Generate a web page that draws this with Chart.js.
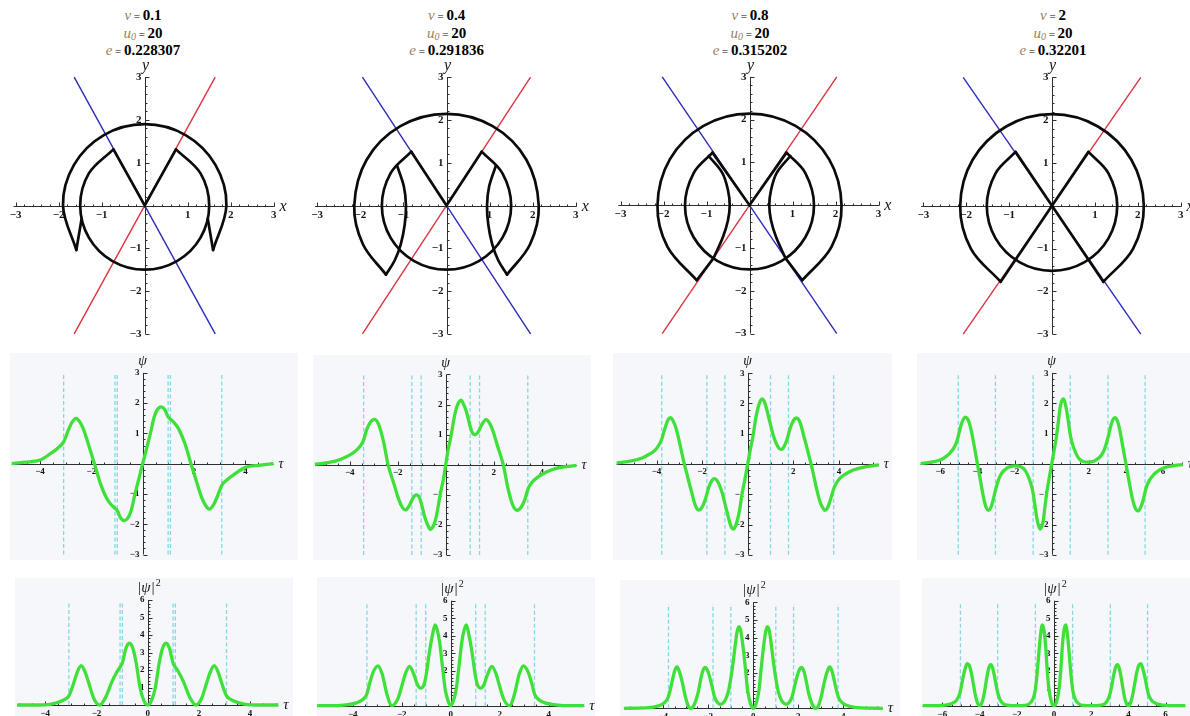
<!DOCTYPE html>
<html>
<head>
<meta charset="utf-8">
<script src="https://cdn.jsdelivr.net/npm/chart.js@4.4.1/dist/chart.umd.min.js"></script>
<style>
  html, body { margin: 0; padding: 0; background: #fff; width: 1190px; height: 716px; overflow: hidden; position: relative; }
  canvas { position: absolute; }
  .ttl { position: absolute; top: 7px; width: 200px; margin-left: -100px; text-align: center;
         font-family: "Liberation Serif", "Times New Roman", serif; line-height: 16.5px; color: #000; }
  .ttl i { color: #9c7e5c; font-size: 15px; }
  .ttl sub { font-size: 10px; line-height: 0; vertical-align: -2px; }
  .ttl .eq { font-size: 11px; }
  .ttl b { font-size: 15px; }
</style>
</head>
<body>
<script>
// ---------- parameters shown above each column ----------
const nuValues = ['0.1', '0.4', '0.8', '2'];
const u0Values = ['20', '20', '20', '20'];
const eValues  = ['0.228307', '0.291836', '0.315202', '0.32201'];

// ---------- tick labels ----------
const planeTicks   = [-3, -2, -1, 1, 2, 3];
const psiTicks     = [-3, -2, -1, 1, 2, 3];
const tauTicksNarrow = [-4, -2, 2, 4];
const tauTicksWide   = [-6, -4, -2, 2, 4, 6];
const probTicks    = [1, 2, 3, 4, 5, 6];
const probTauTicksNarrow = [-4, -2, 0, 2, 4];
const probTauTicksWide   = [-6, -4, -2, 0, 2, 4, 6];

// ---------- phase-plane curves (x, y) ----------
// v = 0.1
const outer1 = [[1.59,-1.04],[1.9,0],[1.645,0.95],[0.95,1.645],[0,1.9],[-0.95,1.645],[-1.645,0.95],[-1.9,0],[-1.59,-1.04]];
const inner1 = [[0.727,1.312],[1.299,0.75],[1.5,0],[1.299,-0.75],[0.75,-1.299],[0,-1.5],[-0.75,-1.299],[-1.299,-0.75],[-1.5,0],[-1.299,0.75],[-0.727,1.312]];
const spikeL1 = [[-1.59,-1.04],[-1.467,-0.31]];
const spikeR1 = [[1.59,-1.04],[1.467,-0.31]];
const vee1 = [[-0.727,1.312],[0,0],[0.727,1.312]];
const red1 = [[-1.64,-3],[1.64,3]];
const blue1 = [[-1.64,3],[1.64,-3]];
// v = 0.4
const outer2 = [[1.404,-1.615],[1.939,-0.905],[2.14,0],[1.853,1.07],[1.07,1.853],[0,2.14],[-1.07,1.853],[-1.853,1.07],[-2.14,0],[-1.939,-0.905],[-1.404,-1.615]];
const inner2 = [[0.817,1.258],[1.299,0.75],[1.5,0],[1.299,-0.75],[0.75,-1.299],[0,-1.5],[-0.75,-1.299],[-1.299,-0.75],[-1.5,0],[-1.299,0.75],[-0.817,1.258]];
const lensL2 = [[-1.404,-1.615],[-1.2,-1.28],[-1.06,-0.9],[-0.97,-0.45],[-0.94,0],[-0.99,0.45],[-1.15,0.94]];
const lensR2 = [[1.404,-1.615],[1.2,-1.28],[1.06,-0.9],[0.97,-0.45],[0.94,0],[0.99,0.45],[1.15,0.94]];
const vee2 = [[-0.817,1.258],[0,0],[0.817,1.258]];
const red2 = [[-1.95,-3],[1.95,3]];
const blue2 = [[-1.95,3],[1.95,-3]];
// v = 0.8
const outer3 = [[1.227,-1.753],[1.907,-0.972],[2.14,0],[1.853,1.07],[1.07,1.853],[0,2.14],[-1.07,1.853],[-1.853,1.07],[-2.14,0],[-1.907,-0.972],[-1.227,-1.753]];
const inner3 = [[0.86,1.229],[1.299,0.75],[1.5,0],[1.299,-0.75],[0.75,-1.299],[0,-1.5],[-0.75,-1.299],[-1.299,-0.75],[-1.5,0],[-1.299,0.75],[-0.86,1.229]];
const footL3 = [[-1.227,-1.753],[-0.84,-1.243]];
const footR3 = [[1.227,-1.753],[0.84,-1.243]];
const lensL3 = [[-0.84,-1.243],[-0.62,-0.75],[-0.5,-0.35],[-0.46,0],[-0.5,0.35],[-0.63,0.75],[-0.95,1.15]];
const lensR3 = [[0.84,-1.243],[0.62,-0.75],[0.5,-0.35],[0.46,0],[0.5,0.35],[0.63,0.75],[0.95,1.15]];
const vee3 = [[-0.86,1.229],[0,0],[0.86,1.229]];
const red3 = [[-2.03,-3],[2.03,3]];
const blue3 = [[-2.03,3],[2.03,-3]];
// v = 2
const outer4 = [[1.197,-1.774],[1.889,-1.005],[2.14,0],[1.853,1.07],[1.07,1.853],[0,2.14],[-1.07,1.853],[-1.853,1.07],[-2.14,0],[-1.889,-1.005],[-1.197,-1.774]];
const inner4 = [[0.85,1.26],[1.316,0.76],[1.52,0],[1.316,-0.76],[0.76,-1.316],[0,-1.52],[-0.76,-1.316],[-1.316,-0.76],[-1.52,0],[-1.316,0.76],[-0.85,1.26]];
const crossA4 = [[-1.197,-1.774],[0,0],[0.85,1.26]];
const crossB4 = [[1.197,-1.774],[0,0],[-0.85,1.26]];
const red4 = [[-2.07,-3],[2.07,3]];
const blue4 = [[-2.07,3],[2.07,-3]];

// ---------- wave functions ----------
const tau1 = [-5.1,-4.6,-4.0,-3.6,-3.3,-3.08,-2.9,-2.75,-2.6,-2.45,-2.3,-2.1,-1.88,-1.65,-1.4,-1.2,-1.08,-0.99,-0.85,-0.72,-0.58,-0.45,-0.3,-0.15,0,
              0.15,0.3,0.45,0.58,0.72,0.85,0.99,1.08,1.2,1.4,1.65,1.88,2.1,2.3,2.45,2.6,2.75,2.9,3.08,3.3,3.6,4.0,4.6,5.1];
const psi1 = [0,0.05,0.12,0.33,0.52,0.72,1.1,1.37,1.5,1.38,1.12,0.6,0,-0.65,-1.15,-1.38,-1.47,-1.55,-1.8,-1.88,-1.8,-1.55,-1.0,-0.5,0,
              0.5,1.0,1.55,1.8,1.88,1.8,1.55,1.47,1.38,1.15,0.65,0,-0.6,-1.12,-1.38,-1.5,-1.37,-1.1,-0.72,-0.52,-0.33,-0.12,-0.05,0];
const prob1 = [0,0,0.01,0.11,0.27,0.52,1.21,1.88,2.25,1.9,1.25,0.36,0,0.42,1.32,1.9,2.16,2.4,3.24,3.53,3.24,2.4,1.0,0.25,0,
               0.25,1.0,2.4,3.24,3.53,3.24,2.4,2.16,1.9,1.32,0.42,0,0.36,1.25,1.9,2.25,1.88,1.21,0.52,0.27,0.11,0.01,0,0];
const cuts1 = [-3.08,-1.08,-0.99,0.99,1.08,3.08];

const tau2 = [-5.45,-5.0,-4.6,-4.2,-3.85,-3.6,-3.43,-3.3,-3.15,-2.97,-2.8,-2.6,-2.4,-2.15,-2.0,-1.85,-1.68,-1.5,-1.36,-1.23,-1.1,-1.0,-0.88,-0.75,-0.64,-0.55,-0.45,-0.35,-0.22,-0.1,0,
              0.1,0.22,0.35,0.45,0.55,0.64,0.75,0.88,1.0,1.1,1.23,1.36,1.5,1.68,1.85,2.0,2.15,2.4,2.6,2.8,2.97,3.15,3.3,3.43,3.6,3.85,4.2,4.6,5.0,5.45];
const psi2 = [0.02,0.06,0.12,0.24,0.4,0.58,0.8,1.15,1.4,1.51,1.35,0.8,0,-0.65,-1.05,-1.35,-1.5,-1.33,-1.1,-1.0,-1.08,-1.33,-1.72,-2.0,-2.15,-2.08,-1.9,-1.55,-0.95,-0.5,0,
              0.5,0.95,1.55,1.9,2.08,2.15,2.0,1.72,1.33,1.08,1.0,1.1,1.33,1.5,1.35,1.05,0.65,0,-0.8,-1.35,-1.51,-1.4,-1.15,-0.8,-0.58,-0.4,-0.24,-0.12,-0.06,-0.02];
const prob2 = [0,0,0.01,0.06,0.16,0.34,0.64,1.32,1.96,2.28,1.82,0.64,0,0.42,1.1,1.82,2.25,1.77,1.21,1.0,1.17,1.77,2.96,4.0,4.62,4.33,3.61,2.4,0.9,0.25,0,
               0.25,0.9,2.4,3.61,4.33,4.62,4.0,2.96,1.77,1.17,1.0,1.21,1.77,2.25,1.82,1.1,0.42,0,0.64,1.82,2.28,1.96,1.32,0.64,0.34,0.16,0.06,0.01,0,0];
const cuts2 = [-3.42,-1.41,-1.02,1.02,1.41,3.42];

const tau3 = [-5.75,-5.1,-4.63,-4.3,-4.05,-3.9,-3.78,-3.7,-3.6,-3.5,-3.39,-3.27,-3.15,-3.03,-2.9,-2.78,-2.67,-2.56,-2.45,-2.35,-2.25,-2.14,-2.05,-1.95,-1.85,-1.72,-1.6,-1.47,-1.37,-1.25,-1.12,-1.0,-0.9,-0.8,-0.72,-0.63,-0.55,-0.45,-0.35,-0.25,-0.12,0,
              0.12,0.25,0.35,0.45,0.55,0.63,0.72,0.8,0.9,1.0,1.12,1.25,1.37,1.47,1.6,1.72,1.85,1.95,2.05,2.14,2.25,2.35,2.45,2.56,2.67,2.78,2.9,3.03,3.15,3.27,3.39,3.5,3.6,3.7,3.78,3.9,4.05,4.3,4.63,5.1,5.75];
const psi3 = [0.03,0.1,0.2,0.33,0.47,0.62,0.8,1.0,1.25,1.45,1.53,1.42,1.2,0.85,0.4,0,-0.32,-0.65,-0.95,-1.25,-1.45,-1.52,-1.48,-1.35,-1.15,-0.8,-0.58,-0.48,-0.52,-0.68,-0.95,-1.3,-1.6,-1.9,-2.08,-2.15,-2.08,-1.85,-1.5,-1.0,-0.5,0,
              0.5,1.0,1.5,1.85,2.08,2.15,2.08,1.9,1.6,1.3,0.95,0.68,0.52,0.48,0.58,0.8,1.15,1.35,1.48,1.52,1.45,1.25,0.95,0.65,0.32,0,-0.4,-0.85,-1.2,-1.42,-1.53,-1.45,-1.25,-1.0,-0.8,-0.62,-0.47,-0.33,-0.2,-0.1,-0.03];
const prob3 = [0,0.01,0.04,0.11,0.22,0.38,0.64,1.0,1.56,2.1,2.34,2.02,1.44,0.72,0.16,0,0.1,0.42,0.9,1.56,2.1,2.31,2.19,1.82,1.32,0.64,0.34,0.23,0.27,0.46,0.9,1.69,2.56,3.61,4.33,4.62,4.33,3.42,2.25,1.0,0.25,0,
               0.25,1.0,2.25,3.42,4.33,4.62,4.33,3.61,2.56,1.69,0.9,0.46,0.27,0.23,0.34,0.64,1.32,1.82,2.19,2.31,2.1,1.56,0.9,0.42,0.1,0,0.16,0.72,1.44,2.02,2.34,2.1,1.56,1.0,0.64,0.38,0.22,0.11,0.04,0.01,0];
const cuts3 = [-3.77,-1.79,-1.0,1.0,1.79,3.77];

const tau4 = [-7.06,-6.5,-6.01,-5.75,-5.48,-5.25,-5.08,-5.0,-4.9,-4.78,-4.67,-4.56,-4.45,-4.33,-4.22,-4.1,-4.0,-3.91,-3.82,-3.72,-3.62,-3.52,-3.41,-3.3,-3.2,-3.1,-3.0,-2.85,-2.69,-2.5,-2.33,-2.1,-1.89,-1.7,-1.53,-1.4,-1.26,-1.14,-1.02,-0.92,-0.81,-0.72,-0.63,-0.54,-0.45,-0.37,-0.27,-0.13,0,
              0.13,0.27,0.37,0.45,0.54,0.63,0.72,0.81,0.92,1.02,1.14,1.26,1.4,1.53,1.7,1.89,2.1,2.33,2.5,2.69,2.85,3.0,3.1,3.2,3.3,3.41,3.52,3.62,3.72,3.82,3.91,4.0,4.1,4.22,4.33,4.45,4.56,4.67,4.78,4.9,5.0,5.08,5.25,5.48,5.75,6.01,6.5,7.06];
const psi4 = [0.02,0.06,0.13,0.22,0.36,0.55,0.8,1.0,1.25,1.45,1.55,1.52,1.38,1.1,0.75,0.35,0,-0.3,-0.6,-0.95,-1.25,-1.45,-1.53,-1.47,-1.3,-1.05,-0.8,-0.5,-0.3,-0.18,-0.11,-0.07,-0.06,-0.08,-0.14,-0.24,-0.42,-0.62,-0.9,-1.3,-1.75,-2.02,-2.15,-2.08,-1.85,-1.45,-0.97,-0.45,0,
              0.45,0.97,1.45,1.85,2.08,2.15,2.02,1.75,1.3,0.9,0.62,0.42,0.24,0.14,0.08,0.06,0.07,0.11,0.18,0.3,0.5,0.8,1.05,1.3,1.47,1.53,1.45,1.25,0.95,0.6,0.3,0,-0.35,-0.75,-1.1,-1.38,-1.52,-1.55,-1.45,-1.25,-1.0,-0.8,-0.55,-0.36,-0.22,-0.13,-0.06,-0.02];
const prob4 = [0,0,0.02,0.05,0.13,0.3,0.64,1.0,1.56,2.1,2.4,2.31,1.9,1.21,0.56,0.12,0,0.09,0.36,0.9,1.56,2.1,2.34,2.16,1.69,1.1,0.64,0.25,0.09,0.03,0.01,0,0,0.01,0.02,0.06,0.18,0.38,0.81,1.69,3.06,4.08,4.62,4.33,3.42,2.1,0.94,0.2,0,
               0.2,0.94,2.1,3.42,4.33,4.62,4.08,3.06,1.69,0.81,0.38,0.18,0.06,0.02,0.01,0,0,0.01,0.03,0.09,0.25,0.64,1.1,1.69,2.16,2.34,2.1,1.56,0.9,0.36,0.09,0,0.12,0.56,1.21,1.9,2.31,2.4,2.1,1.56,1.0,0.64,0.3,0.13,0.05,0.02,0,0];
const cuts4 = [-5.03,-3.03,-1.0,1.0,3.03,5.03];

// ---------- layout: canvas boxes [left, top, width, height] and frames [originX, originY, px per unit x, px per unit y] ----------
const topBoxes = [[0,55,300,290],[300,55,300,290],[600,55,292,290],[892,55,298,290]];
const topFrames = [[144.7,205.5,43,42.8],[446.5,205.5,43.1,42.8],[749.5,205.2,43,42.8],[1052,205.8,42.9,42.8]];
const midBoxes = [[10,353,288,207],[313,355,278,205],[613,353,279,207],[917,353,273,207]];
const midFrames = [[142.7,463.7,25.67,30.27],[445.7,464.8,24.0,30.1],[747.7,464.0,22.8,30.27],[1051.7,464.0,18.57,30.27]];
const botBoxes = [[15,578,278,138],[317,577,278,139],[620,580,280,136],[922,578,268,138]];
const botFrames = [[147.7,705.0,25.6,17.5],[450.7,705.7,24.5,17.5],[753.3,708.3,22.5,17.67],[1054.0,705.7,18.6,17.5]];
const titleCenters = [143, 446.7, 750, 1053];

// ---------- styles ----------
const SERIF = '"Liberation Serif", "Times New Roman", serif';
const BLACK = '#0b0b0b', RED = '#dc3340', BLUE = '#2c2cbb', GREEN = '#3fe03a', CUT = '#88d6e4';
const PANEL_BG = '#f5f7fa';

const fmt = v => (v < 0 ? '\u2212' + Math.abs(v) : String(v));
const pairs = a => a.map(([x, y]) => ({x, y}));
const xy = (xs, ys) => xs.map((x, i) => ({x, y: ys[i]}));

function stroke(data, color, width, extra) {
  return Object.assign({
    data, showLine: true, borderColor: color, backgroundColor: color, borderWidth: width,
    pointRadius: 0, pointHoverRadius: 0, fill: false, clip: false, tension: 0
  }, extra || {});
}
const arc = a => stroke(pairs(a), BLACK, 2.7, {tension: 0.35, borderCapStyle: 'round'});
const seg = a => stroke(pairs(a), BLACK, 2.7, {borderCapStyle: 'round'});
const cutLines = (cuts, lo, hi) => cuts.map(t =>
  stroke([{x: t, y: lo}, {x: t, y: hi}], CUT, 1.3, {borderDash: [4, 2.5]}));

// Mathematica-style axes crossing at the origin, with minor ticks
const axisPainter = {
  id: 'axisPainter',
  beforeDatasetsDraw(chart, args, o) {
    const {ctx} = chart;
    const sx = chart.scales.x, sy = chart.scales.y;
    const X = v => sx.getPixelForValue(v), Y = v => sy.getPixelForValue(v);
    const x0 = Math.round(X(0)) + 0.5, y0 = Math.round(Y(0)) + 0.5;
    const h = o.h, v = o.v;
    const near = (list, t) => list.some(m => Math.abs(m - t) < 1e-6);
    ctx.save();
    ctx.strokeStyle = '#2e2e2e';
    ctx.lineWidth = 1;
    ctx.beginPath();
    ctx.moveTo(X(h.from), y0); ctx.lineTo(X(h.to), y0);
    ctx.moveTo(x0, Y(v.from)); ctx.lineTo(x0, Y(v.to));
    for (let i = Math.ceil(h.from / h.minor - 1e-9); i * h.minor <= h.to + 1e-9; i++) {
      const t = i * h.minor;
      if (Math.abs(t) < 1e-9) continue;
      const len = near(h.major, t) ? 4 : 2;
      const p = Math.round(X(t)) + 0.5;
      ctx.moveTo(p, y0); ctx.lineTo(p, y0 - len);
    }
    for (let i = Math.ceil(v.from / v.minor - 1e-9); i * v.minor <= v.to + 1e-9; i++) {
      const t = i * v.minor;
      if (Math.abs(t) < 1e-9) continue;
      const len = near(v.major, t) ? 4 : 2;
      const p = Math.round(Y(t)) + 0.5;
      ctx.moveTo(x0, p); ctx.lineTo(x0 + len, p);
    }
    ctx.stroke();

    ctx.fillStyle = '#141414';
    ctx.font = o.tickFont;
    ctx.textAlign = 'center'; ctx.textBaseline = 'top';
    h.major.forEach(t => ctx.fillText(fmt(t), X(t), y0 + o.gapX));
    ctx.textAlign = 'right'; ctx.textBaseline = 'middle';
    v.major.forEach(t => { if (t !== 0) ctx.fillText(fmt(t), x0 - o.gapY, Y(t)); });

    ctx.font = o.nameFont;
    ctx.textAlign = 'left'; ctx.textBaseline = 'middle';
    ctx.fillText(h.name, X(h.to) + o.nameDx, y0);
    ctx.textBaseline = 'alphabetic';
    const w1 = ctx.measureText(v.name).width;
    let w2 = 0;
    if (v.sup) { ctx.font = o.supFont; w2 = ctx.measureText(v.sup).width; ctx.font = o.nameFont; }
    const left = x0 - (w1 + w2) / 2 + (o.nameShift || 0);
    const base = Y(v.to) - o.nameDy;
    ctx.fillText(v.name, left, base);
    if (v.sup) { ctx.font = o.supFont; ctx.fillText(v.sup, left + w1 + 1, base - 6); }
    ctx.restore();
  }
};

function makeChart(box, frame, datasets, axes, bg) {
  const cv = document.createElement('canvas');
  cv.width = box[2]; cv.height = box[3];
  cv.style.left = box[0] + 'px'; cv.style.top = box[1] + 'px';
  cv.style.width = box[2] + 'px'; cv.style.height = box[3] + 'px';
  if (bg) cv.style.background = bg;
  document.body.appendChild(cv);
  const [ox, oy, kx, ky] = frame;
  return new Chart(cv, {
    type: 'scatter',
    data: {datasets},
    options: {
      responsive: false, animation: false, events: [], devicePixelRatio: 1,
      layout: {padding: 0},
      plugins: {legend: {display: false}, tooltip: {enabled: false}, axisPainter: axes},
      scales: {
        x: {type: 'linear', display: false, bounds: 'data',
            min: (box[0] - ox) / kx, max: (box[0] + box[2] - ox) / kx},
        y: {type: 'linear', display: false, bounds: 'data',
            min: (oy - box[1] - box[3]) / ky, max: (oy - box[1]) / ky}
      }
    },
    plugins: [axisPainter]
  });
}

// ---------- column titles ----------
titleCenters.forEach((cx, i) => {
  const d = document.createElement('div');
  d.className = 'ttl';
  d.style.left = cx + 'px';
  d.innerHTML =
    '<div><i>v</i><span class="eq"> = </span><b>' + nuValues[i] + '</b></div>' +
    '<div><i>u<sub>0</sub></i><span class="eq"> = </span><b>' + u0Values[i] + '</b></div>' +
    '<div><i>e</i><span class="eq"> = </span><b>' + eValues[i] + '</b></div>';
  document.body.appendChild(d);
});

// ---------- top row: phase plane ----------
const planeAxes = {
  h: {from: -3.05, to: 3.02, minor: 0.2, major: planeTicks, name: 'x'},
  v: {from: -3, to: 3, minor: 0.2, major: planeTicks, name: 'y'},
  tickFont: 'bold 11px ' + SERIF, nameFont: 'italic 16px ' + SERIF, supFont: '10px ' + SERIF,
  gapX: 3, gapY: 4, nameDx: 5, nameDy: 7
};
const planeSets = [
  [arc(outer1), arc(inner1), seg(spikeL1), seg(spikeR1), seg(vee1),
   stroke(pairs(red1), RED, 1.4), stroke(pairs(blue1), BLUE, 1.4)],
  [arc(outer2), arc(inner2), arc(lensL2), arc(lensR2), seg(vee2),
   stroke(pairs(red2), RED, 1.4), stroke(pairs(blue2), BLUE, 1.4)],
  [arc(outer3), arc(inner3), arc(lensL3), arc(lensR3), seg(footL3), seg(footR3), seg(vee3),
   stroke(pairs(red3), RED, 1.4), stroke(pairs(blue3), BLUE, 1.4)],
  [arc(outer4), arc(inner4), seg(crossA4), seg(crossB4),
   stroke(pairs(red4), RED, 1.4), stroke(pairs(blue4), BLUE, 1.4)]
];
planeSets.forEach((sets, i) => makeChart(topBoxes[i], topFrames[i], sets, planeAxes));

// ---------- middle row: psi(tau) ----------
const taus = [tau1, tau2, tau3, tau4];
const psis = [psi1, psi2, psi3, psi4];
const probs = [prob1, prob2, prob3, prob4];
const cuts = [cuts1, cuts2, cuts3, cuts4];
const cutSpanPsi = [-3, 3];
const cutSpanProb = [0, 5.9];

taus.forEach((tau, i) => {
  const wide = i === 3;
  const axes = {
    h: {from: tau[0], to: tau[tau.length - 1], minor: 0.5, major: wide ? tauTicksWide : tauTicksNarrow, name: '\u03c4'},
    v: {from: -3, to: 3, minor: 0.2, major: psiTicks, name: '\u03c8'},
    tickFont: 'bold 9px ' + SERIF, nameFont: 'italic 14px ' + SERIF, supFont: '10px ' + SERIF,
    gapX: 3, gapY: 4, nameDx: 5, nameDy: 8, nameShift: -1
  };
  const sets = [stroke(xy(tau, psis[i]), GREEN, 3.3, {cubicInterpolationMode: 'monotone'})]
    .concat(cutLines(cuts[i], cutSpanPsi[0], cutSpanPsi[1]));
  makeChart(midBoxes[i], midFrames[i], sets, axes, PANEL_BG);
});

// ---------- bottom row: |psi|^2 ----------
taus.forEach((tau, i) => {
  const wide = i === 3;
  const axes = {
    h: {from: tau[0], to: tau[tau.length - 1], minor: 0.5, major: wide ? probTauTicksWide : probTauTicksNarrow, name: '\u03c4'},
    v: {from: 0, to: 6, minor: 0.2, major: probTicks, name: '|\u03c8|', sup: '2'},
    tickFont: 'bold 9px ' + SERIF, nameFont: 'italic 15px ' + SERIF, supFont: '10px ' + SERIF,
    gapX: 4, gapY: 4, nameDx: 5, nameDy: 8
  };
  const sets = [stroke(xy(tau, probs[i]), GREEN, 3.3, {cubicInterpolationMode: 'monotone'})]
    .concat(cutLines(cuts[i], cutSpanProb[0], cutSpanProb[1]));
  makeChart(botBoxes[i], botFrames[i], sets, axes, PANEL_BG);
});
</script>
</body>
</html>
